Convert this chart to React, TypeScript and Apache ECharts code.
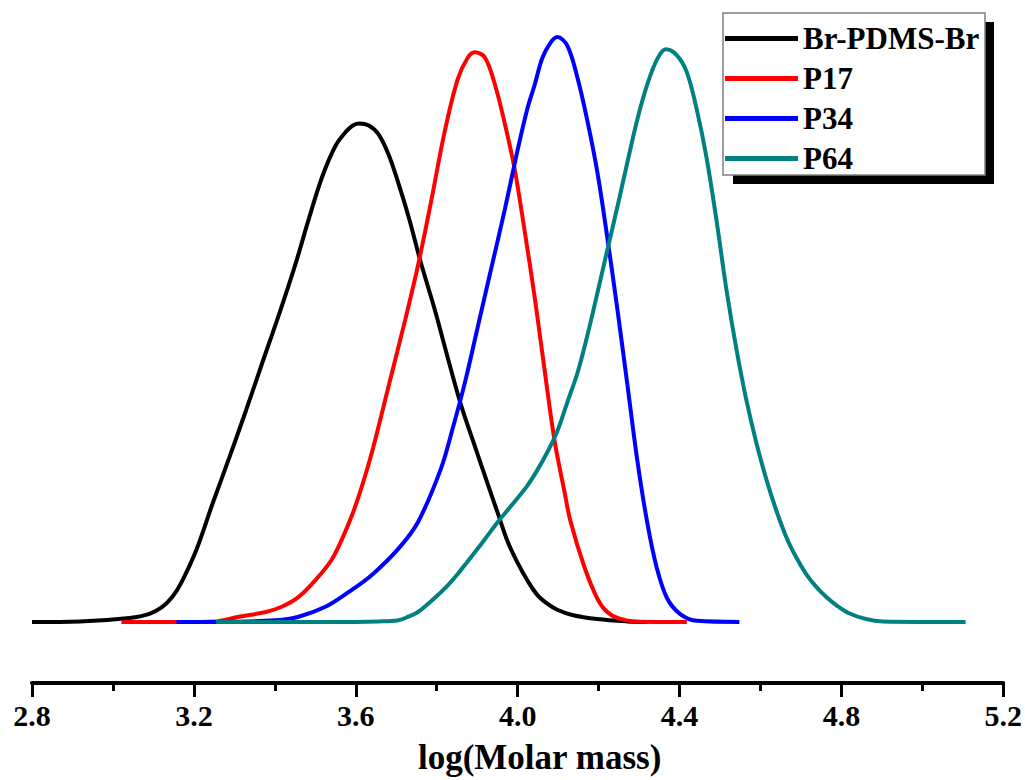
import React, { useEffect, useRef } from "react";
import * as echarts from "echarts";

const seriesNames = ["Br-PDMS-Br", "P17", "P34", "P64"];
const seriesColors = ["#000000", "#ff0000", "#0000ff", "#008080"];
const xTickLabels = ["2.8", "3.2", "3.6", "4.0", "4.4", "4.8", "5.2"];
const axisTitle = "log(Molar mass)";

const brPdmsBr: [number, number][] = [
  [2.8, 0.0], [2.918, 0.001], [3.041, 0.007], [3.09, 0.014], [3.122, 0.026],
  [3.147, 0.043], [3.171, 0.07], [3.206, 0.123], [3.245, 0.2], [3.287, 0.28],
  [3.329, 0.362], [3.368, 0.441], [3.41, 0.525], [3.452, 0.614], [3.484, 0.689],
  [3.516, 0.759], [3.55, 0.814], [3.577, 0.839], [3.594, 0.849], [3.609, 0.852],
  [3.631, 0.849], [3.656, 0.834], [3.68, 0.801], [3.698, 0.766], [3.73, 0.694],
  [3.761, 0.614], [3.796, 0.532], [3.828, 0.45], [3.86, 0.371], [3.894, 0.301],
  [3.926, 0.236], [3.951, 0.186], [3.975, 0.138], [4.0, 0.101], [4.025, 0.07],
  [4.049, 0.046], [4.074, 0.031], [4.098, 0.021], [4.135, 0.012], [4.197, 0.005],
  [4.271, 0.001], [4.32, 0.0],
];

const p17: [number, number][] = [
  [3.021, 0.0], [3.157, 0.0], [3.255, 0.001], [3.311, 0.009], [3.378, 0.017],
  [3.417, 0.026], [3.459, 0.043], [3.501, 0.072], [3.54, 0.106], [3.565, 0.14],
  [3.599, 0.198], [3.638, 0.285], [3.68, 0.4], [3.722, 0.516], [3.754, 0.61],
  [3.786, 0.718], [3.82, 0.839], [3.852, 0.928], [3.877, 0.965], [3.894, 0.974],
  [3.919, 0.965], [3.943, 0.921], [3.968, 0.853], [3.993, 0.773], [4.017, 0.67],
  [4.042, 0.556], [4.066, 0.434], [4.091, 0.311], [4.116, 0.222], [4.13, 0.174],
  [4.165, 0.094], [4.197, 0.04], [4.22, 0.018], [4.25, 0.006], [4.288, 0.001],
  [4.418, 0.0],
];

const p34: [number, number][] = [
  [3.157, 0.0], [3.255, 0.0], [3.402, 0.003], [3.459, 0.009], [3.525, 0.026],
  [3.582, 0.051], [3.639, 0.08], [3.705, 0.125], [3.754, 0.171], [3.811, 0.263],
  [3.84, 0.332], [3.87, 0.41], [3.902, 0.506], [3.934, 0.602], [3.968, 0.704],
  [4.0, 0.807], [4.025, 0.88], [4.042, 0.918], [4.061, 0.964], [4.081, 0.99],
  [4.098, 1.0], [4.123, 0.985], [4.148, 0.93], [4.172, 0.858], [4.197, 0.769],
  [4.221, 0.66], [4.246, 0.537], [4.271, 0.407], [4.295, 0.28], [4.32, 0.171],
  [4.344, 0.092], [4.369, 0.041], [4.401, 0.014], [4.443, 0.002], [4.548, 0.0],
];

const p64: [number, number][] = [
  [3.255, 0.0], [3.54, 0.0], [3.656, 0.001], [3.705, 0.003], [3.73, 0.009],
  [3.754, 0.017], [3.779, 0.031], [3.803, 0.046], [3.828, 0.063], [3.852, 0.082],
  [3.877, 0.104], [3.902, 0.126], [3.926, 0.148], [3.951, 0.171], [3.975, 0.191],
  [4.0, 0.212], [4.025, 0.234], [4.049, 0.26], [4.074, 0.291], [4.098, 0.326],
  [4.123, 0.376], [4.148, 0.426], [4.172, 0.489], [4.197, 0.562], [4.221, 0.634],
  [4.246, 0.708], [4.271, 0.785], [4.295, 0.857], [4.32, 0.918], [4.344, 0.961],
  [4.366, 0.979], [4.393, 0.969], [4.418, 0.94], [4.443, 0.875], [4.467, 0.793],
  [4.492, 0.684], [4.516, 0.568], [4.541, 0.465], [4.565, 0.38], [4.59, 0.306],
  [4.615, 0.243], [4.639, 0.191], [4.664, 0.145], [4.688, 0.111], [4.713, 0.082],
  [4.738, 0.06], [4.762, 0.043], [4.787, 0.029], [4.819, 0.015], [4.861, 0.005],
  [4.902, 0.001], [5.107, 0.0],
];

const allData = [brPdmsBr, p17, p34, p64];

const FONT = "'Liberation Serif', 'Times New Roman', serif";

export default function App() {
  const ref = useRef<HTMLDivElement>(null);

  useEffect(() => {
    if (!ref.current) return;
    const chart = echarts.init(ref.current, undefined, { renderer: "svg" });
    chart.setOption({
      animation: false,
      backgroundColor: "#ffffff",
      grid: { left: 32, right: 17, top: 7.75, bottom: 97, containLabel: false },
      xAxis: {
        type: "value",
        min: 2.8,
        max: 5.2,
        interval: 0.4,
        name: axisTitle,
        nameLocation: "middle",
        nameGap: 57,
        nameTextStyle: {
          fontFamily: FONT,
          fontWeight: "bold",
          fontSize: 35,
          color: "#000",
          padding: [0, 0, 0, 44],
        },
        axisLine: { show: true, onZero: false, lineStyle: { color: "#000", width: 4 } },
        axisTick: { show: true, length: 14, lineStyle: { color: "#000", width: 3 } },
        minorTick: { show: true, splitNumber: 2, length: 8, lineStyle: { color: "#000", width: 3 } },
        splitLine: { show: false },
        axisLabel: {
          fontFamily: FONT,
          fontWeight: "bold",
          fontSize: 30,
          color: "#000",
          margin: 17,
          formatter: (v: number) =>
            xTickLabels.find((t) => Math.abs(parseFloat(t) - v) < 1e-6) ?? "",
        },
      },
      yAxis: {
        type: "value",
        show: false,
        min: -0.1043,
        max: 1.05,
        splitLine: { show: false },
      },
      legend: {
        show: true,
        orient: "vertical",
        left: 723,
        top: 13,
        padding: [10, 5, 5, 2],
        itemGap: 9,
        itemWidth: 73,
        itemHeight: 5,
        icon: "rect",
        z: 10,
        data: seriesNames,
        textStyle: {
          fontFamily: FONT,
          fontWeight: "bold",
          fontSize: 31,
          lineHeight: 30,
          color: "#000",
        },
      },
      graphic: [
        {
          type: "rect",
          z: 1,
          shape: { x: 733, y: 22, width: 261, height: 162 },
          style: { fill: "#000" },
        },
        {
          type: "rect",
          z: 2,
          shape: { x: 723, y: 13, width: 262, height: 162 },
          style: { fill: "#fff", stroke: "#808080", lineWidth: 1.5 },
        },
      ],
      series: seriesNames.map((name, i) => ({
        name,
        type: "line",
        data: allData[i],
        showSymbol: false,
        symbol: "none",
        smooth: 0.35,
        color: seriesColors[i],
        lineStyle: { color: seriesColors[i], width: 4 },
        z: 3 + i,
      })),
    });
    return () => chart.dispose();
  }, []);

  return (
    <div
      ref={ref}
      style={{ position: "absolute", left: 0, top: 0, width: 1025, height: 780, background: "#fff" }}
    />
  );
}
